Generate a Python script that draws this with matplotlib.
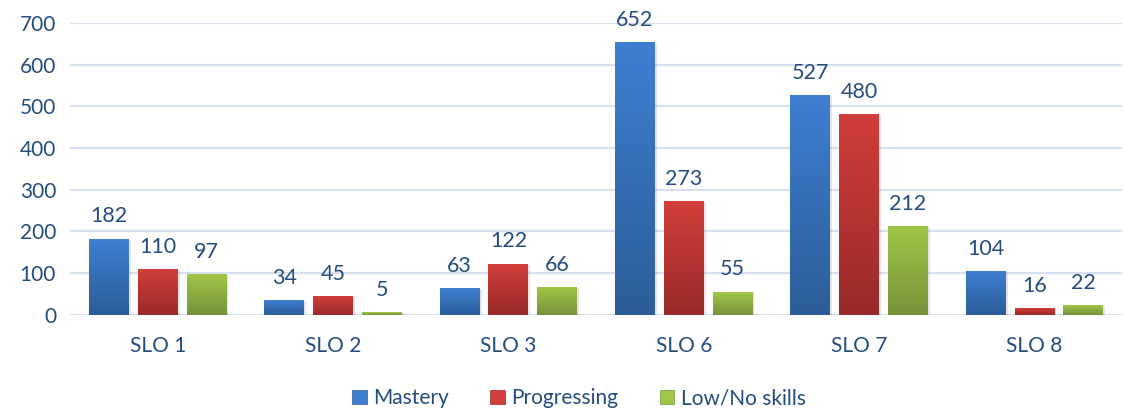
import numpy as np
import matplotlib.pyplot as plt
from matplotlib.colors import LinearSegmentedColormap
from matplotlib.patches import Patch

categories = ["SLO 1", "SLO 2", "SLO 3", "SLO 6", "SLO 7", "SLO 8"]
mastery = [182, 34, 63, 652, 527, 104]
progressing = [110, 45, 122, 273, 480, 16]
low_skills = [97, 5, 66, 55, 212, 22]
series_names = ["Mastery", "Progressing", "Low/No skills"]

# (top colour, bottom colour) for the gradient fill
colors = [("#3E7FD2", "#2C5D98"), ("#D23E3B", "#982A28"), ("#A0C647", "#74933A")]
text_color = "#244C7F"

plt.rcParams['font.family'] = ['Lato', 'DejaVu Sans']

fig = plt.figure(figsize=(11.24, 4.16), dpi=100)
ax = fig.add_axes([0.0623, 0.243, 0.936, 0.702])

x = np.arange(len(categories))
width = 0.227
step = 0.278
ymax = 700
grad = np.linspace(0, 1, 256).reshape(-1, 1)

for i, (vals, (top, bottom)) in enumerate(zip([mastery, progressing, low_skills], colors)):
    cmap = LinearSegmentedColormap.from_list(f"g{i}", [bottom, top])
    for xi, v in zip(x, vals):
        left = xi + (i - 1) * step - width / 2
        # soft shadow
        ax.add_patch(plt.Rectangle((left + 0.012, 0), width, v - 1.5, color="#000000",
                                   alpha=0.10, zorder=2, lw=0))
        ax.imshow(grad, extent=(left, left + width, 0, v), origin="lower", cmap=cmap,
                  aspect="auto", zorder=3)
        ax.text(left + width / 2, v + 30, str(v), ha="center", va="bottom",
                fontsize=15.5, color=text_color, zorder=4, clip_on=False)

ax.set_xlim(-0.5, len(categories) - 0.5)
ax.set_ylim(0, ymax)
ax.set_yticks(range(0, 701, 100))
ax.set_xticks(x)
ax.set_xticklabels(categories)
ax.tick_params(axis="both", length=0, labelsize=15, colors=text_color)
ax.tick_params(axis="x", pad=15)
ax.tick_params(axis="y", pad=10)
ax.grid(axis="y", color="#D6E0EE", linewidth=1.6, zorder=0)
ax.set_axisbelow(True)
for s in ax.spines.values():
    s.set_visible(False)

handles = [Patch(facecolor=c[0], edgecolor=c[1], linewidth=0.5) for c in colors]
fig.legend(handles, series_names, loc="center", bbox_to_anchor=(0.515, 0.043), ncol=3,
           frameon=False, fontsize=15, labelcolor=text_color, handlelength=0.7,
           handleheight=0.7, handletextpad=0.3, columnspacing=2.0)

fig.savefig("out.png", dpi=100)
